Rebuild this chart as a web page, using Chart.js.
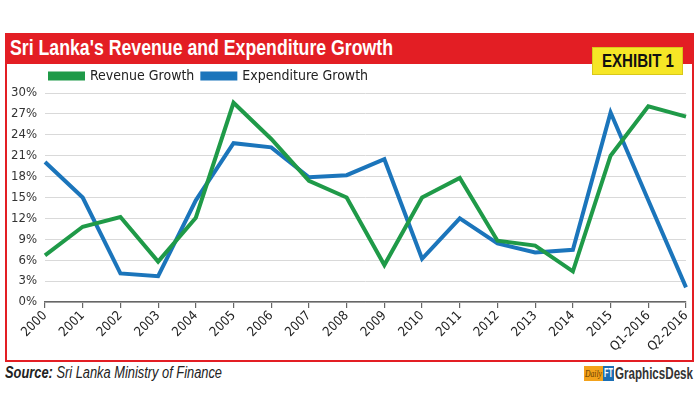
<!DOCTYPE html>
<html>
<head>
<meta charset="utf-8">
<script src="https://cdn.jsdelivr.net/npm/chart.js@4.4.0/dist/chart.umd.min.js"></script>
<style>
  html, body { margin:0; padding:0; background:#fff; width:700px; height:400px; overflow:hidden; }
  body { position:relative; font-family:"Liberation Sans",Arial,sans-serif; }
  #frame { position:absolute; left:5px; top:33px; width:685px; height:325px; border:2px solid #e31e24; }
  #titlebar { position:absolute; left:5px; top:33px; width:689px; height:31px; background:#e31e24; }
  .fit { position:absolute; white-space:nowrap; transform-origin:0 0; }
  #title { left:10px; top:36px; color:#fff; font-weight:bold; font-size:22px; line-height:24px; }
  #exhibit { position:absolute; left:592px; top:47px; width:91px; height:28px; background:#f6e626; border:1px solid #d8c81a; box-sizing:border-box; }
  #extext { left:602px; top:51px; color:#111; font-weight:bold; font-size:18px; line-height:20px; }
  #wrap { position:absolute; left:0; top:59px; width:700px; height:301px; }
  #source { left:5px; top:364px; font-size:16px; line-height:18px; font-style:italic; color:#222; }
  #source b { font-weight:bold; }
  #logo { position:absolute; left:584px; top:366px; height:15px; white-space:nowrap; }
  #logo .d { position:absolute; left:0; top:0; width:19px; height:15px; background:#f3a21b; }
  #logo .dt { left:1px; top:1px; color:#6a3c00; font-style:italic; font-family:"Liberation Serif",serif; font-size:11px; line-height:13px; }
  #logo .f { position:absolute; left:19px; top:0; width:11px; height:15px; background:#1c6fb5; }
  #logo .ft { left:20px; top:1px; color:#fff; font-weight:bold; font-size:12px; line-height:13px; }
  #logo .g { left:31px; top:-1px; font-weight:bold; color:#333; font-size:16px; line-height:17px; }
</style>
</head>
<body>
<div id="frame"></div>
<div id="titlebar"></div>
<div id="title" class="fit" data-w="383">Sri Lanka's Revenue and Expenditure Growth</div>
<div id="wrap"><canvas id="c" width="700" height="301"></canvas></div>
<div id="exhibit"></div>
<div id="extext" class="fit" data-w="72">EXHIBIT 1</div>
<div id="source" class="fit" data-w="217"><b>Source:</b> Sri Lanka Ministry of Finance</div>
<div id="logo">
  <div class="d"></div><div class="dt fit" data-w="17">Daily</div>
  <div class="f"></div><div class="ft fit" data-w="9">FT</div>
  <div class="g fit" data-w="78">GraphicsDesk</div>
</div>
<script>
document.querySelectorAll('.fit').forEach(el => {
  const target = parseFloat(el.dataset.w);
  const w = el.getBoundingClientRect().width;
  if (w > 0) el.style.transform = 'scaleX(' + (target / w) + ')';
});

const categories = ["2000","2001","2002","2003","2004","2005","2006","2007","2008","2009","2010","2011","2012","2013","2014","2015","Q1-2016","Q2-2016"];
const revenueGrowth = [6.7,10.8,12.2,5.8,12.1,28.6,23.4,17.4,15.0,5.3,15.0,17.8,8.8,8.1,4.4,21.0,28.1,26.6];
const expenditureGrowth = [20.1,15.0,4.1,3.7,14.6,22.8,22.2,17.9,18.2,20.5,6.2,12.0,8.4,7.1,7.5,27.2,14.6,2.1];
const yTicks = [0,3,6,9,12,15,18,21,24,27,30];

const FONT = '"DejaVu Sans Condensed","Liberation Sans Narrow",sans-serif';
const GREEN = '#1f9a48';
const BLUE = '#1b75bb';

const legendShift = {
  id: 'legendShift',
  afterLayout(chart) {
    if (chart.legend) chart.legend.left += 42;
  }
};

new Chart(document.getElementById('c'), {
  type: 'line',
  data: {
    labels: categories,
    datasets: [
      { label: 'Revenue Growth', data: revenueGrowth, borderColor: GREEN, backgroundColor: GREEN, borderWidth: 4, pointRadius: 0, tension: 0, fill: false },
      { label: 'Expenditure Growth', data: expenditureGrowth, borderColor: BLUE, backgroundColor: BLUE, borderWidth: 4, pointRadius: 0, tension: 0, fill: false }
    ]
  },
  plugins: [legendShift],
  options: {
    responsive: false,
    animation: false,
    layout: { padding: { left: 0, right: 14, top: 2, bottom: 0 } },
    plugins: {
      legend: {
        display: true,
        align: 'start',
        labels: { font: { family: FONT, size: 14 }, color: '#222', boxWidth: 33, boxHeight: 5, padding: 8 }
      },
      tooltip: { enabled: false }
    },
    scales: {
      x: {
        offset: false,
        grid: { display: true, drawOnChartArea: false, drawTicks: true, tickLength: 6, color: '#666', lineWidth: 1.2 },
        border: { display: true, color: '#666', width: 1.5 },
        ticks: { minRotation: 45, maxRotation: 45, autoSkip: false, padding: 0, font: { family: FONT, size: 13 }, color: '#222' },
        afterFit: (s) => { s.height = 58; }
      },
      y: {
        min: 0, max: 30,
        afterBuildTicks: (s) => { s.ticks = yTicks.map(v => ({ value: v })); },
        grid: { color: '#d9d9d9', lineWidth: 1, drawTicks: false },
        border: { display: false },
        ticks: { padding: 8, font: { family: FONT, size: 13 }, color: '#333', callback: (v) => v + '%' },
        afterFit: (s) => { s.width = 45; }
      }
    }
  }
});
</script>
</body>
</html>
